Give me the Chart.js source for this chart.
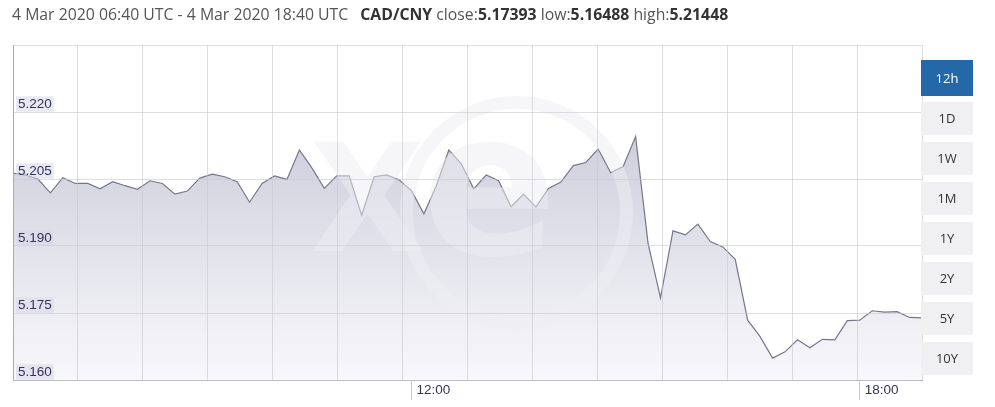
<!DOCTYPE html>
<html>
<head>
<meta charset="utf-8">
<script src="https://cdn.jsdelivr.net/npm/chart.js@4"></script>
<style>
  html, body { margin: 0; padding: 0; background: #fff; }
  #wrap { position: relative; width: 995px; height: 407px; overflow: hidden; }
  #head { position: absolute; left: 12px; top: 4px; font: 15.8px/20px "Open Sans", sans-serif; color: #555; white-space: nowrap; }
  #head b { color: #333; font-weight: 700; }
  #head .pair { margin-left: 12px; }
  #btns { position: absolute; left: 921px; top: 60px; width: 52px; }
  .btn { height: 33px; margin-bottom: 7px; background: #f0f0f2; color: #333; font: 13px/33px "Open Sans", sans-serif; text-align: center; }
  .btn.on { background: #2468a8; color: #fff; height: 36px; line-height: 36px; margin-bottom: 6px; }
  canvas { position: absolute; left: 0; top: 0; }
</style>
</head>
<body>
<div id="wrap">
  <canvas id="chart" width="995" height="407"></canvas>
  <div id="head">4 Mar 2020 06:40 UTC - 4 Mar 2020 18:40 UTC<span class="pair"><b>CAD/CNY</b> close:<b>5.17393</b> low:<b>5.16488</b> high:<b>5.21448</b></span></div>
  <div id="btns"></div>
</div>
<script>
// time of each 10-minute quote
const times = [
  '06:40', '06:50',
  '07:00', '07:10', '07:20', '07:30', '07:40', '07:50',
  '08:00', '08:10', '08:20', '08:30', '08:40', '08:50',
  '09:00', '09:10', '09:20', '09:30', '09:40', '09:50',
  '10:00', '10:10', '10:20', '10:30', '10:40', '10:50',
  '11:00', '11:10', '11:20', '11:30', '11:40', '11:50',
  '12:00', '12:10', '12:20', '12:30', '12:40', '12:50',
  '13:00', '13:10', '13:20', '13:30', '13:40', '13:50',
  '14:00', '14:10', '14:20', '14:30', '14:40', '14:50',
  '15:00', '15:10', '15:20', '15:30', '15:40', '15:50',
  '16:00', '16:10', '16:20', '16:30', '16:40', '16:50',
  '17:00', '17:10', '17:20', '17:30', '17:40', '17:50',
  '18:00', '18:10', '18:20', '18:30', '18:40', '18:50'
];

// CAD/CNY rate
const rates = [
  5.2063, 5.2059, 5.2050, 5.2019, 5.2053, 5.2040, 5.2040, 5.2028, 5.2044, 5.2035,
  5.2027, 5.2046, 5.2040, 5.2016, 5.2023, 5.2052, 5.2061, 5.2055, 5.2044, 5.1998,
  5.2040, 5.2057, 5.2049, 5.2115, 5.2075, 5.2029, 5.2057, 5.2057, 5.1969, 5.2055,
  5.2059, 5.2048, 5.2024, 5.1972, 5.2035, 5.2115, 5.2084, 5.2028, 5.2059, 5.2046,
  5.1988, 5.2016, 5.1987, 5.2029, 5.2043, 5.2080, 5.2087, 5.2117, 5.2064, 5.2078,
  5.2145, 5.1906, 5.1784, 5.1934, 5.1925, 5.1949, 5.1910, 5.1898, 5.1870, 5.1734,
  5.1697, 5.1649, 5.1663, 5.1690, 5.1672, 5.1691, 5.1690, 5.1733, 5.1734, 5.1755,
  5.1752, 5.1753, 5.1740, 5.1739
];

const yTicks = [5.160, 5.175, 5.190, 5.205, 5.220, 5.235];
const timeLabels = ['12:00', '18:00'];
const ranges = ['12h', '1D', '1W', '1M', '1Y', '2Y', '5Y', '10Y'];

// range buttons
const btns = document.getElementById('btns');
ranges.forEach((r, i) => {
  const d = document.createElement('div');
  d.className = i === 0 ? 'btn on' : 'btn';
  d.textContent = r;
  btns.appendChild(d);
});

// faint xe logo over the fill
const watermark = {
  id: 'watermark',
  afterDatasetsDraw(chart) {
    const { ctx, chartArea: a } = chart;
    const cx = (a.left + a.right) / 2, cy = (a.top + a.bottom) / 2;
    ctx.save();
    ctx.fillStyle = ctx.strokeStyle = 'rgba(238,238,244,0.5)';
    ctx.lineWidth = 13;
    ctx.beginPath();
    ctx.arc(cx + 49, cy, 110, 0, Math.PI * 2);
    ctx.stroke();
    ctx.textAlign = 'center';
    ctx.textBaseline = 'middle';
    ctx.font = 'bold 150px "DejaVu Sans", sans-serif';
    ctx.fillText('X', cx - 100, cy);
    ctx.font = 'bold 200px "DejaVu Sans", sans-serif';
    ctx.fillText('e', cx + 22, cy - 10);
    ctx.restore();
  }
};

const lastIdx = times.length - 1;
const tickFont = { family: '"Liberation Sans", Arial, sans-serif', size: 13.5, lineHeight: 1 };
const gridColor = 'rgba(200,200,205,0.6)';

new Chart(document.getElementById('chart'), {
  type: 'line',
  data: {
    datasets: [{
      data: rates.map((v, i) => ({ x: i, y: v })),
      borderColor: '#77778c',
      borderWidth: 1.2,
      pointRadius: 0,
      tension: 0,
      fill: 'start',
      backgroundColor: (c) => {
        const a = c.chart.chartArea;
        if (!a) return '#ddd';
        const g = c.chart.ctx.createLinearGradient(0, a.top, 0, a.bottom);
        g.addColorStop(0, '#c0c0d2');
        g.addColorStop(1, '#f8f8fb');
        return g;
      }
    }]
  },
  options: {
    responsive: false,
    animation: false,
    devicePixelRatio: 1,
    layout: { padding: { left: 13, top: 45, right: 73, bottom: 0 } },
    plugins: { legend: { display: false }, tooltip: { enabled: false } },
    scales: {
      x: {
        type: 'linear', min: 0, max: lastIdx,
        afterBuildTicks: (s) => {
          const t = [];
          for (let k = 0; k <= 14; k++) t.push({ value: lastIdx * k / 14 });
          s.ticks = t;
        },
        afterFit: (s) => { s.height = 0; },
        ticks: { display: false },
        grid: { color: gridColor, drawTicks: false, z: 1 },
        border: { color: '#aaaab2', z: 1 }
      },
      x2: {
        type: 'linear', min: 0, max: lastIdx, position: 'bottom',
        afterBuildTicks: (s) => { s.ticks = timeLabels.map(t => ({ value: times.indexOf(t) })); },
        afterFit: (s) => { s.height = 27; },
        grid: { drawOnChartArea: false, drawTicks: true, tickLength: 20, color: '#cccccc' },
        border: { display: false },
        ticks: {
          autoSkip: false, maxRotation: 0, align: 'start', labelOffset: 5, padding: -16,
          color: '#333355', font: tickFont,
          callback: (v) => times[v]
        }
      },
      y: {
        min: 5.160, max: 5.235,
        afterBuildTicks: (s) => { s.ticks = yTicks.map(v => ({ value: v })); },
        afterFit: (s) => { s.width = 0; },
        grid: { color: gridColor, drawTicks: false, z: 1 },
        border: { color: '#aaaab2', z: 1 },
        ticks: {
          z: 2, mirror: true, padding: 5, labelOffset: -8,
          color: '#333355', font: tickFont,
          showLabelBackdrop: true,
          backdropColor: (c) => c.tick && c.tick.value > 5.23 ? 'rgba(0,0,0,0)' : 'rgba(215,215,235,0.55)',
          backdropPadding: { top: 1, bottom: 1, left: 2, right: 2 },
          callback: (v) => v > 5.23 ? '' : v.toFixed(3)
        }
      }
    }
  },
  plugins: [watermark]
});
</script>
</body>
</html>
